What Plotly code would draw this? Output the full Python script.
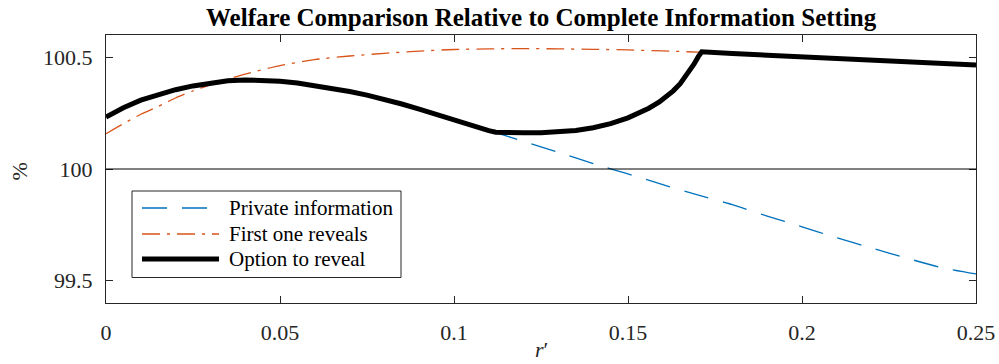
import plotly.graph_objects as go

# ---------------- data ----------------
x_private = [0, 0.005, 0.01, 0.015, 0.02, 0.025, 0.03, 0.035, 0.04, 0.045, 0.05, 0.055, 0.06, 0.065,
             0.07, 0.08, 0.09, 0.10, 0.11, 0.12, 0.13, 0.14, 0.15, 0.16, 0.17, 0.18, 0.19, 0.20,
             0.21, 0.22, 0.23, 0.24, 0.25]
y_private = [100.233, 100.274, 100.308, 100.334, 100.355, 100.372, 100.386, 100.395, 100.399,
             100.398, 100.393, 100.385, 100.374, 100.361, 100.347, 100.312, 100.268, 100.217,
             100.172, 100.124, 100.075, 100.024, 99.978, 99.930, 99.884, 99.840, 99.789, 99.741,
             99.692, 99.646, 99.601, 99.559, 99.530]

x_first = [0, 0.005, 0.01, 0.015, 0.02, 0.025, 0.03, 0.035, 0.04, 0.05, 0.06, 0.07, 0.08,
           0.09, 0.10, 0.11, 0.12, 0.13, 0.14, 0.15, 0.16, 0.17, 0.18, 0.19, 0.20, 0.21,
           0.22, 0.23, 0.24, 0.25]
y_first = [100.158, 100.203, 100.245, 100.280, 100.318, 100.350, 100.377, 100.402, 100.425,
           100.463, 100.490, 100.506, 100.518, 100.528, 100.535, 100.538, 100.539, 100.538,
           100.536, 100.533, 100.529, 100.523, 100.517, 100.509, 100.501, 100.494, 100.487,
           100.480, 100.473, 100.466]

x_option = [0, 0.005, 0.01, 0.015, 0.02, 0.025, 0.03, 0.035, 0.04, 0.045, 0.05, 0.055, 0.06,
            0.065, 0.07, 0.075, 0.08, 0.085, 0.09, 0.095, 0.10, 0.105, 0.11, 0.112,
            0.115, 0.12, 0.125, 0.13, 0.135, 0.14, 0.145, 0.15, 0.153, 0.156, 0.159, 0.161,
            0.163, 0.165, 0.167, 0.169, 0.1702, 0.1712, 0.18, 0.19, 0.20, 0.21, 0.22, 0.23,
            0.24, 0.25]
y_option = [100.233, 100.274, 100.308, 100.334, 100.355, 100.372, 100.386, 100.395, 100.399,
            100.398, 100.393, 100.385, 100.374, 100.361, 100.347, 100.331, 100.312, 100.291,
            100.268, 100.243, 100.217, 100.193, 100.172, 100.165,
            100.163, 100.162, 100.162, 100.165, 100.172, 100.185, 100.203, 100.229, 100.248,
            100.272, 100.300, 100.323, 100.350, 100.382, 100.422, 100.470, 100.503, 100.525,
            100.517, 100.509, 100.501, 100.494, 100.487, 100.480, 100.473, 100.466]

names = ["Private information", "First one reveals", "Option to reveal"]
x_ticks = [0, 0.05, 0.1, 0.15, 0.2, 0.25]
x_ticklabels = ["0", "0.05", "0.1", "0.15", "0.2", "0.25"]
y_ticks = [99.5, 100, 100.5]
y_ticklabels = ["99.5", "100", "100.5"]
reference_level = 100

title = "Welfare Comparison Relative to Complete Information Setting"
x_title = "<i>r</i>′"
y_title = "%"

# ---------------- styling ----------------
FONT = "Liberation Serif"
AX = "#262626"
BLUE = "#0072BD"
ORANGE = "#D95319"
W, H = 999, 364
L, R, T, B = 106, 976, 35, 303
PW, PH = R - L, B - T


def px(x):
    return (x - L) / PW


def py(y):
    return (B - y) / PH


styles = [
    dict(color=BLUE, width=1.3, dash="25px,15px"),
    dict(color=ORANGE, width=1.3, dash="18px,7px,3px,7px"),
    dict(color="black", width=5),
]
shapes_kind = ["spline", "spline", "linear"]

fig = go.Figure()
for xs, ys, nm, st, sh in zip([x_private, x_first, x_option], [y_private, y_first, y_option],
                              names, styles, shapes_kind):
    line = dict(shape=sh, **st)
    if sh == "spline":
        line["smoothing"] = 0.6
    fig.add_trace(go.Scatter(x=xs, y=ys, mode="lines", name=nm, line=line, showlegend=False))

shapes = [
    dict(type="line", xref="paper", yref="y", x0=0, x1=1, y0=reference_level, y1=reference_level,
         line=dict(color="black", width=1), layer="above"),
    dict(type="rect", xref="paper", yref="paper", x0=px(132), x1=px(401), y0=py(277.5), y1=py(191),
         line=dict(color=AX, width=1), fillcolor="white", layer="above"),
]
annotations = []
row_y = [208, 234, 259]
for nm, st, ry in zip(names, styles, row_y):
    shapes.append(dict(type="line", xref="paper", yref="paper", x0=px(142), x1=px(219), y0=py(ry), y1=py(ry),
                       line=st, layer="above"))
    annotations.append(dict(text=nm, xref="paper", yref="paper", x=px(227), y=py(ry), xanchor="left",
                            yanchor="middle", showarrow=False, font=dict(family=FONT, size=21, color="black")))

annotations.append(dict(text=y_title, xref="paper", yref="paper", x=px(18.5), y=py(172), xanchor="center",
                        yanchor="middle", textangle=-90, showarrow=False, font=dict(family=FONT, size=22, color=AX)))
annotations.append(dict(text=x_title, xref="paper", yref="paper", x=0.5, y=py(364), xanchor="center",
                        yanchor="bottom", showarrow=False, font=dict(family=FONT, size=22, color=AX)))
annotations.append(dict(text="<b>" + title + "</b>", xref="paper", yref="paper", x=0.5, y=py(18), xanchor="center",
                        yanchor="middle", showarrow=False, font=dict(family=FONT, size=25, color="black")))

axis_common = dict(showline=True, linecolor=AX, linewidth=1, mirror="ticks", ticks="inside", ticklen=7,
                   tickcolor=AX, tickwidth=1, showgrid=False, zeroline=False,
                   tickfont=dict(family=FONT, size=22, color=AX))

fig.update_layout(
    width=W, height=H, margin=dict(l=L, r=W - R, t=T, b=H - B, autoexpand=False),
    plot_bgcolor="white", paper_bgcolor="white",
    xaxis=dict(range=[0, 0.25], tickvals=x_ticks, ticktext=x_ticklabels, ticklabelstandoff=10, **axis_common),
    yaxis=dict(range=[99.4, 100.6], tickvals=y_ticks, ticktext=y_ticklabels, ticklabelstandoff=8, **axis_common),
    shapes=shapes, annotations=annotations, showlegend=False,
)

fig.write_html("out.html")
